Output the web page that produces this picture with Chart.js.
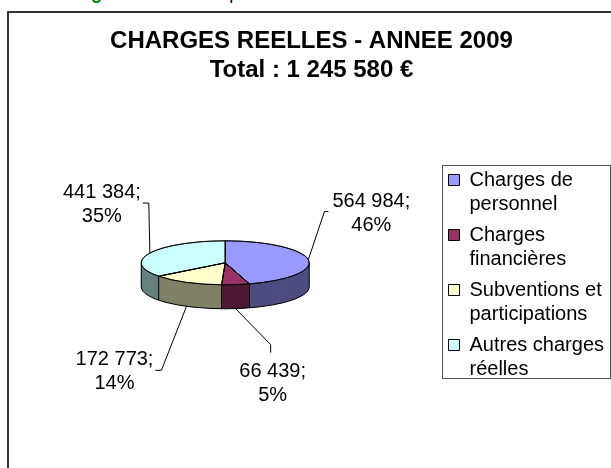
<!DOCTYPE html>
<html>
<head>
<meta charset="utf-8">
<script src="https://cdn.jsdelivr.net/npm/chart.js@4"></script>
<style>
  html, body { margin: 0; padding: 0; background: #fff; overflow: hidden; width: 611px; height: 468px; }
  #intro { position: absolute; left: 17px; top: -17px; font: 18px "Liberation Sans", Arial, sans-serif; white-space: nowrap; }
  #intro b { color: #008000; }
  #frame { position: absolute; left: 7px; top: 11px; width: 640px; height: 480px; border-top: 2px solid #333; border-left: 2px solid #333; }
  canvas { display: block; }
</style>
</head>
<body>
<div id="intro"><b>Les charges réelles</b> se répartissent ainsi :</div>
<div id="frame"><canvas id="pieChart" width="606" height="456"></canvas></div>
<script>
document.addEventListener("DOMContentLoaded", function () {
    const categories = [["Charges de", "personnel"], ["Charges", "financières"], ["Subventions et", "participations"], ["Autres charges", "réelles"]];
    const amounts = [564984, 66439, 172773, 441384];
    const percents = [46, 5, 14, 35];

    const topColors = ["#9999FF", "#993366", "#FFFFCC", "#CCFFFF"];
    const sideColors = ["#4D4D80", "#4D1A33", "#808066", "#668080"];
    const FONT = '"Liberation Sans", Arial, sans-serif';

    // format 564984 -> "564 984"
    function fmt(n) {
        return String(n).replace(/\B(?=(\d{3})+(?!\d))/g, " ");
    }

    // tilted pie: side walls drawn first, then the top face squashed
    const pie3d = {
        id: "pie3d",
        beforeDatasetsDraw(chart, args, opts) {
            const ctx = chart.ctx;
            const arcs = chart.getDatasetMeta(0).data;
            const cx = arcs[0].x, cy = arcs[0].y, r = arcs[0].outerRadius;
            const k = opts.tilt, depth = opts.depth;
            const top = cy - depth / 2;

            ctx.save();
            for (let d = depth; d >= 1; d--) {
                arcs.forEach((arc, i) => {
                    ctx.beginPath();
                    ctx.moveTo(cx, top + d);
                    ctx.ellipse(cx, top + d, r, r * k, 0, arc.startAngle, arc.endAngle);
                    ctx.closePath();
                    ctx.fillStyle = sideColors[i];
                    ctx.fill();
                });
            }
            ctx.strokeStyle = "#000";
            ctx.lineWidth = 1;
            ctx.beginPath();
            ctx.ellipse(cx, top + depth, r, r * k, 0, 0, Math.PI);
            const edges = [0, Math.PI];
            arcs.forEach((a) => { if (Math.sin(a.startAngle) > 0) edges.push(a.startAngle); });
            edges.forEach((t) => {
                const x = cx + r * Math.cos(t), y = top + r * k * Math.sin(t);
                ctx.moveTo(x, y);
                ctx.lineTo(x, y + depth);
            });
            ctx.stroke();
            ctx.restore();

            ctx.save();
            ctx.translate(cx, top);
            ctx.scale(1, k);
            ctx.translate(-cx, -cy);
        },
        afterDatasetsDraw(chart, args, opts) {
            const ctx = chart.ctx;
            ctx.restore();

            const arcs = chart.getDatasetMeta(0).data;
            const cx = arcs[0].x, cy = arcs[0].y, r = arcs[0].outerRadius;
            const k = opts.tilt, depth = opts.depth;
            const top = cy - depth / 2;

            // outline of the top face
            ctx.save();
            ctx.strokeStyle = "#000";
            ctx.lineWidth = 1;
            arcs.forEach((arc) => {
                ctx.beginPath();
                ctx.moveTo(cx, top);
                ctx.ellipse(cx, top, r, r * k, 0, arc.startAngle, arc.endAngle);
                ctx.closePath();
                ctx.stroke();
            });

            // data labels with leader lines
            ctx.font = "20px " + FONT;
            ctx.fillStyle = "#000";
            ctx.textAlign = "center";
            ctx.textBaseline = "alphabetic";
            arcs.forEach((arc, i) => {
                const mid = (arc.startAngle + arc.endAngle) / 2;
                const ax = cx + r * Math.cos(mid);
                let ay = top + r * k * Math.sin(mid);
                if (Math.sin(mid) > 0) ay += depth;
                const off = opts.labelOffsets[i];
                const lx = ax + off[0], base = ay + off[1];
                const line1 = fmt(amounts[i]) + ";";
                const line2 = percents[i] + "%";
                ctx.fillText(line1, lx, base);
                ctx.fillText(line2, lx, base + 24);

                const half = ctx.measureText(line1).width / 2;
                let ex, ey, bx, by;
                if (off[1] > 0 && Math.abs(off[0]) < 50) {
                    ex = lx - 2; ey = base - 24; bx = ex; by = base - 32;
                } else if (off[0] > 0) {
                    ey = by = base + 5; ex = lx - half - 4; bx = lx - half - 8;
                } else {
                    ey = by = base + 5; ex = lx + half + 2; bx = lx + half + 8;
                }
                ctx.beginPath();
                ctx.moveTo(ax, ay);
                ctx.lineTo(bx, by);
                ctx.lineTo(ex, ey);
                ctx.stroke();
            });
            ctx.restore();
        },
        afterDraw(chart) {
            // frame round the legend
            const boxes = chart.legend.legendHitBoxes;
            if (!boxes || !boxes.length) return;
            const left = Math.min(...boxes.map((b) => b.left)) - 6;
            const topY = Math.min(...boxes.map((b) => b.top)) - 5;
            const bottom = Math.max(...boxes.map((b) => b.top + b.height)) - 5;
            const right = Math.max(...boxes.map((b) => b.left + b.width)) + 6;
            const ctx = chart.ctx;
            ctx.save();
            ctx.strokeStyle = "#555";
            ctx.lineWidth = 1;
            ctx.strokeRect(Math.round(left) + 0.5, Math.round(topY) + 0.5, Math.round(right - left), Math.round(bottom - topY));
            ctx.restore();
        }
    };

    new Chart(document.getElementById("pieChart"), {
        type: "pie",
        data: {
            labels: categories,
            datasets: [{
                data: amounts,
                backgroundColor: topColors,
                borderColor: "#000",
                borderWidth: 1,
                clip: false,
            }],
        },
        options: {
            responsive: false,
            animation: false,
            events: [],
            radius: 84,
            layout: { padding: { bottom: 13, right: 1 } },
            plugins: {
                title: {
                    display: true,
                    text: ["CHARGES REELLES - ANNEE 2009", "Total : 1 245 580 €"],
                    color: "#000",
                    font: { family: FONT, size: 24, weight: "bold", lineHeight: 1.2 },
                    padding: { top: 14, bottom: 9 },
                },
                legend: {
                    position: "right",
                    title: {
                        display: true,
                        text: " ",
                        font: { family: FONT, size: 20, lineHeight: 1.2 },
                        padding: { top: 60, bottom: 0 },
                    },
                    labels: {
                        color: "#000",
                        boxWidth: 11,
                        boxHeight: 11,
                        padding: 7,
                        font: { family: FONT, size: 20, lineHeight: 1.2 },
                    },
                },
                tooltip: { enabled: false },
                pie3d: {
                    tilt: 0.262,
                    depth: 24,
                    labelOffsets: [[63, -53], [37, 68], [-72, 59], [-48, -55]],
                },
            },
        },
        plugins: [pie3d],
    });
});
</script>
</body>
</html>
